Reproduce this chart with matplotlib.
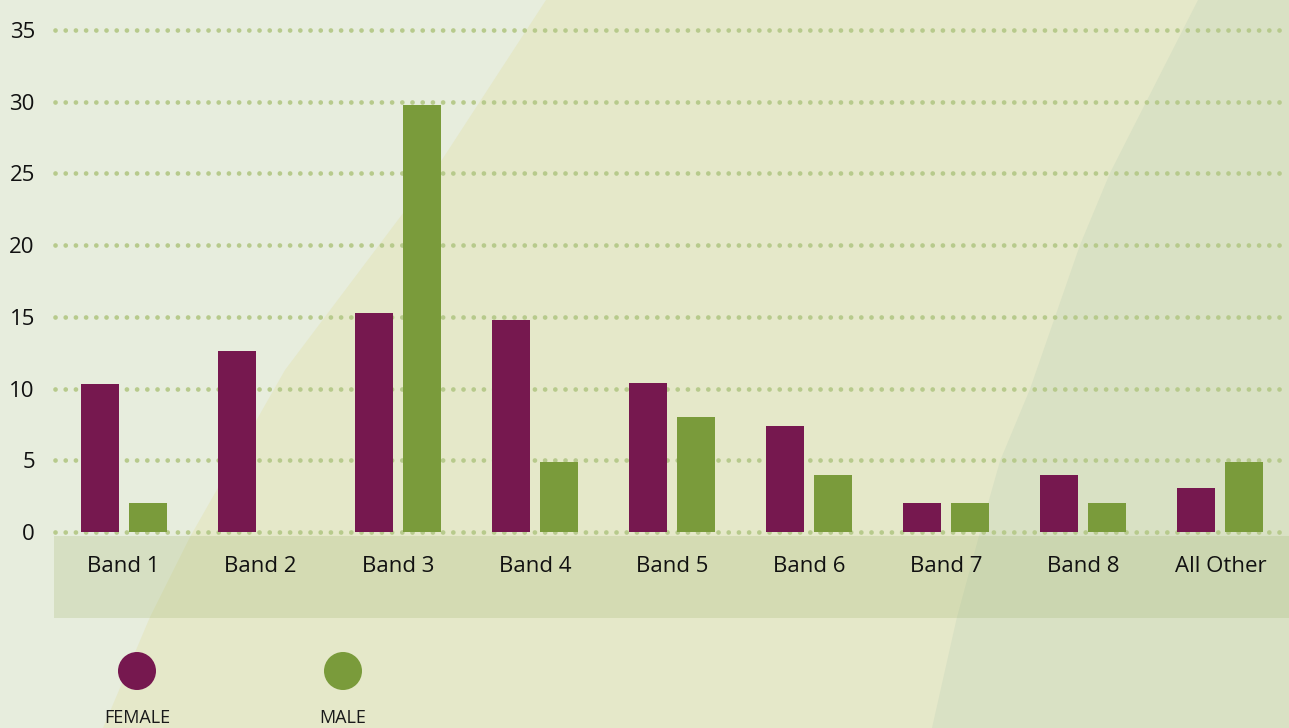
import matplotlib
matplotlib.use("Agg")
import matplotlib.pyplot as plt
from matplotlib.patches import Polygon, Rectangle, Circle

categories = ["Band 1", "Band 2", "Band 3", "Band 4", "Band 5", "Band 6", "Band 7", "Band 8", "All Other"]
female = [10.3, 12.6, 15.3, 14.8, 10.4, 7.4, 2.0, 4.0, 3.1]
male = [2.0, 0.0, 29.8, 4.9, 8.0, 4.0, 2.0, 2.0, 4.9]
yticks = [0, 5, 10, 15, 20, 25, 30, 35]
legend_labels = ["FEMALE", "MALE"]

C_FEMALE = "#76184f"
C_MALE = "#7a9b3b"
C_GRID = "#b7ca8c"
FONT = ["Open Sans", "DejaVu Sans"]
plt.rcParams['font.family'] = FONT

W, H = 1289, 728
fig = plt.figure(figsize=(W / 100, H / 100), dpi=100)
fig.patch.set_facecolor("#e7eddd")

# background decoration axes in pixel coordinates
bg = fig.add_axes([0, 0, 1, 1], zorder=0)
bg.set_xlim(0, W)
bg.set_ylim(H, 0)
bg.axis("off")
mid = [(546, 0), (434, 172), (285, 370), (190, 537), (150, 617), (103, 728), (W, H), (W, 0)]
bg.add_patch(Polygon(mid, closed=True, facecolor="#e5e8c9", edgecolor="none"))
right = [(1198, 0), (1110, 173), (1080, 245), (1030, 389), (1000, 461), (980, 532), (957, 617), (932, 728), (W, H), (W, 0)]
bg.add_patch(Polygon(right, closed=True, facecolor="#d9e1c4", edgecolor="none"))
bg.add_patch(Rectangle((54, 536), W - 54, 82, facecolor="#a5b875", alpha=0.25, edgecolor="none"))

# legend
for x, lab, col in [(137, legend_labels[0], C_FEMALE), (343, legend_labels[1], C_MALE)]:
    bg.add_patch(Circle((x, 671), 19, facecolor=col, edgecolor="none"))
    bg.text(x, 718, lab, ha="center", va="center", fontsize=13, color="#1a1a1a",
            family=FONT)

# main chart
left_px, right_px = 55, W
y0_px, y35_px = 532, 30
ax = fig.add_axes([left_px / W, 1 - y0_px / H, (right_px - left_px) / W, (y0_px - y35_px) / H], zorder=1)
ax.patch.set_alpha(0)
for s in ax.spines.values():
    s.set_visible(False)
ax.set_xlim(-0.5, len(categories) - 0.5)
ax.set_ylim(0, 35)

for t in yticks:
    ax.axhline(t, color=C_GRID, lw=3.4, dashes=(0.01, 2.15), dash_capstyle="round",
               solid_capstyle="round", clip_on=False, zorder=1)

xs = list(range(len(categories)))
bw = 0.277
off = 0.175
ax.bar([x - off for x in xs], female, width=bw, color=C_FEMALE, zorder=2)
ax.bar([x + off for x in xs], male, width=bw, color=C_MALE, zorder=2)

ax.set_yticks(yticks)
ax.set_yticklabels([str(t) for t in yticks], fontsize=16, color="#111111")
ax.set_xticks(xs)
ax.set_xticklabels(categories, fontsize=16, color="#111111")
ax.tick_params(axis="both", length=0)
ax.tick_params(axis="y", pad=14.5)
ax.tick_params(axis="x", pad=17)

fig.savefig("out.png", dpi=100, facecolor=fig.get_facecolor())
